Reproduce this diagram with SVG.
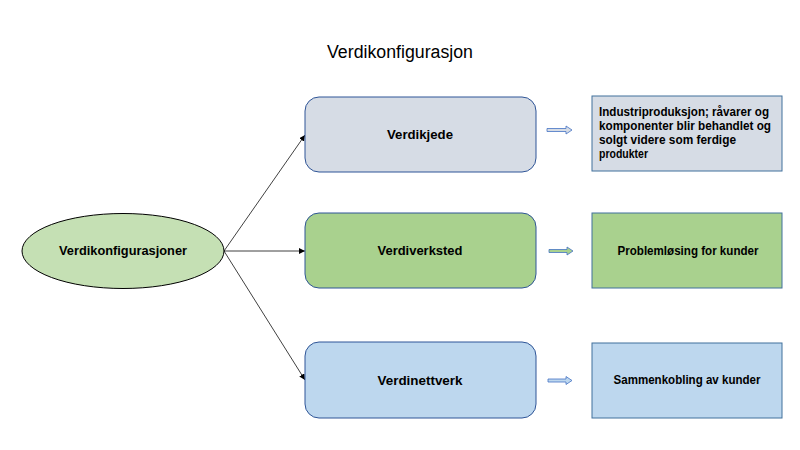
<svg xmlns="http://www.w3.org/2000/svg" width="800" height="450" viewBox="0 0 800 450">
<defs>
<style>
text{font-family:"Liberation Sans",Arial,sans-serif;fill:#000}
.b{font-weight:bold;font-size:12.5px}
.mid{text-anchor:middle}
.rr{stroke:#2F5597;stroke-width:1}
.bx{stroke:#41719C;stroke-width:1}
.con{stroke:#000;stroke-width:0.75;fill:none;marker-end:url(#ah)}
.ba{stroke:#4472C4;stroke-width:0.8}
</style>
<marker id="ah" viewBox="0 0 10 10" refX="10" refY="5" markerWidth="6" markerHeight="6" orient="auto" markerUnits="userSpaceOnUse">
<path d="M0,0 L10,5 L0,10 z" fill="#000"/>
</marker>
</defs>
<rect width="800" height="450" fill="#fff"/>
<text x="400" y="58" class="mid" font-size="18" textLength="146" lengthAdjust="spacingAndGlyphs">Verdikonfigurasjon</text>

<g id="connectors">
<line class="con" x1="224" y1="251" x2="305" y2="135"/>
<line class="con" x1="224" y1="251" x2="305" y2="251"/>
<line class="con" x1="224" y1="251" x2="305" y2="380"/>
<path class="ba" fill="#D6DCE5" d="M547,128.5 H566 V126 L572,130 L566,134 V131.5 H547 Z"/>
<path class="ba" fill="#A9D18E" d="M549,249.5 H567 V247 L573,251 L567,255 V252.5 H549 Z"/>
<path class="ba" fill="#BDD7EE" d="M548,379 H566 V376.5 L572,380.5 L566,384.5 V382 H548 Z"/>
</g>

<g id="n-root">
<ellipse cx="123" cy="251" rx="101" ry="37.5" fill="#C5E0B4" stroke="#000" stroke-width="1"/>
<text x="123" y="255" class="b mid" textLength="128" lengthAdjust="spacingAndGlyphs">Verdikonfigurasjoner</text>
</g>

<g id="n-verdikjede">
<rect class="rr" x="305" y="97" width="231" height="75" rx="14" fill="#D6DCE5"/>
<text x="420" y="139" class="b mid" textLength="66" lengthAdjust="spacingAndGlyphs">Verdikjede</text>
</g>
<g id="n-verdiverksted">
<rect class="rr" x="305" y="213" width="231" height="75" rx="14" fill="#A9D18E"/>
<text x="420" y="255" class="b mid" textLength="85" lengthAdjust="spacingAndGlyphs">Verdiverksted</text>
</g>
<g id="n-verdinettverk">
<rect class="rr" x="305" y="342" width="231" height="76" rx="14" fill="#BDD7EE"/>
<text x="420" y="385" class="b mid" textLength="85" lengthAdjust="spacingAndGlyphs">Verdinettverk</text>
</g>

<g id="d-verdikjede">
<rect class="bx" x="592" y="96" width="190" height="75" fill="#D6DCE5"/>
<text class="b" x="599" y="115.5" textLength="170" lengthAdjust="spacingAndGlyphs">Industriproduksjon; råvarer og</text>
<text class="b" x="599" y="129.5" textLength="172" lengthAdjust="spacingAndGlyphs">komponenter blir behandlet og</text>
<text class="b" x="599" y="143.5" textLength="137" lengthAdjust="spacingAndGlyphs">solgt videre som ferdige</text>
<text class="b" x="599" y="157.5" textLength="49" lengthAdjust="spacingAndGlyphs">produkter</text>
</g>
<g id="d-verdiverksted">
<rect class="bx" x="592" y="213" width="190" height="75" fill="#A9D18E"/>
<text x="688" y="255" class="b mid" textLength="141" lengthAdjust="spacingAndGlyphs">Problemløsing for kunder</text>
</g>
<g id="d-verdinettverk">
<rect class="bx" x="592" y="343" width="190" height="75" fill="#BDD7EE"/>
<text x="687" y="384" class="b mid" textLength="147" lengthAdjust="spacingAndGlyphs">Sammenkobling av kunder</text>
</g>
</svg>
